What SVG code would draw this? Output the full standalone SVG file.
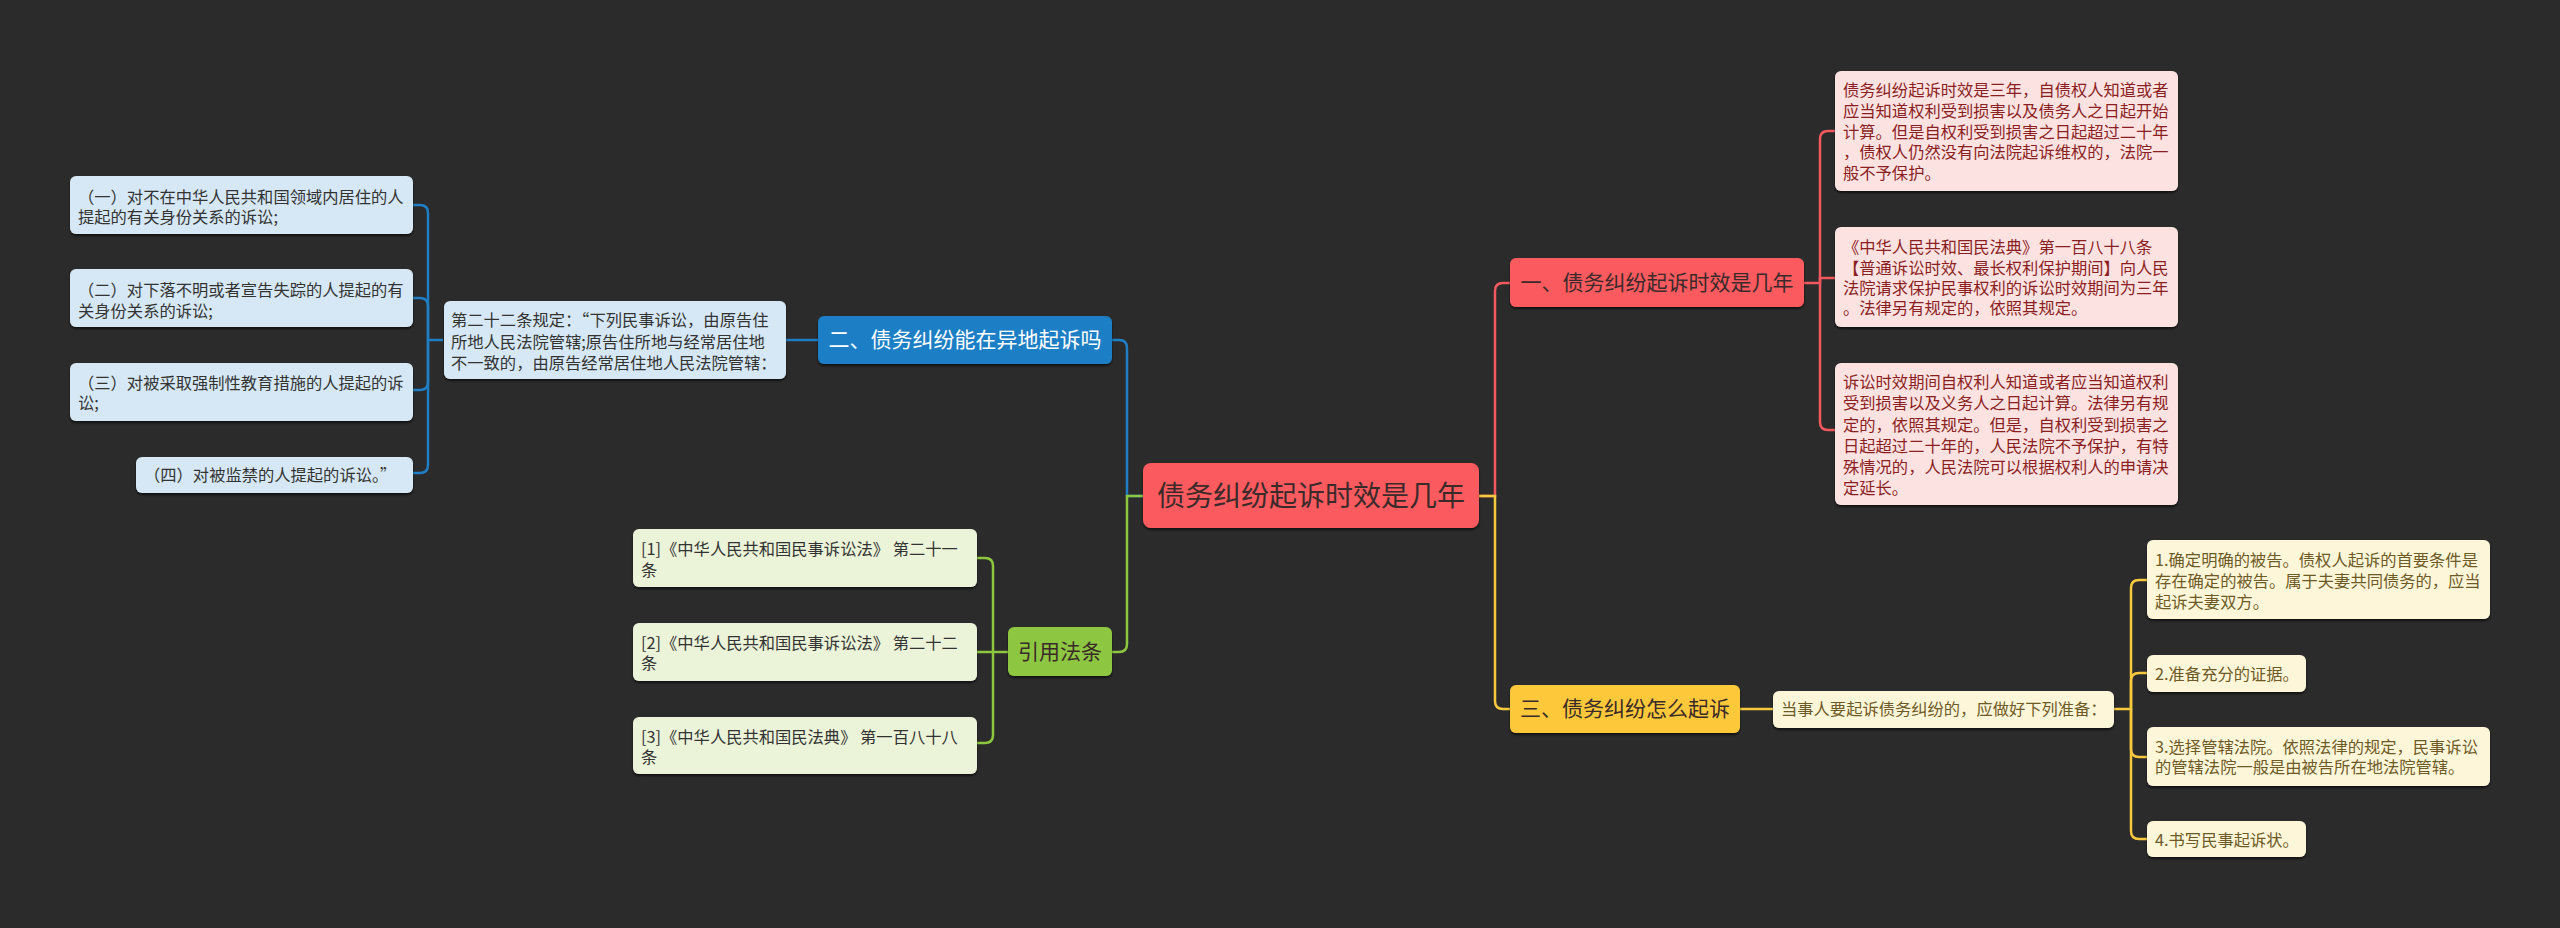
<svg xmlns="http://www.w3.org/2000/svg" width="2560" height="928" viewBox="0 0 2560 928">
<defs>
<filter id="sh" x="-5%" y="-10%" width="110%" height="130%">
<feDropShadow dx="0" dy="2" stdDeviation="1" flood-color="#000" flood-opacity="0.6"/>
</filter>
</defs>
<style>
text{font-family:"Noto Sans CJK SC","Microsoft YaHei",sans-serif;}
.root{fill:#fb5a5e;}
.red{fill:#fb5a5e;}
.blue{fill:#1f7ec4;}
.green{fill:#8dc63f;}
.yellow{fill:#fdc93a;}
.redc{fill:#fde2e2;}
.bluec{fill:#d6e8f5;}
.greenc{fill:#ebf3d8;}
.yellowc{fill:#fdf6d8;}
.t1{font-size:28px;fill:#3a2a2a;text-anchor:middle;}
.t2{font-size:21px;fill:#3a2a2a;text-anchor:middle;}
.t2w{font-size:21px;fill:#ffffff;text-anchor:middle;}
.t3{font-size:16.3px;}
.tr{fill:#8a1f22;}
.tb{fill:#333333;}
.tg{fill:#333333;}
.ty{fill:#6e5a26;}
.cn path{fill:none;stroke-width:2.5;}
.cb{stroke:#1f7ec4;}
.cg{stroke:#8dc63f;}
.cr{stroke:#f0595e;}
.cy{stroke:#f7c93e;}
</style>
<rect x="0" y="0" width="2560" height="928" fill="#2b2b2b"/>

<g id="connectors" class="cn">
<path class="cb" d="M1143 496 H1127 V348 Q1127 340 1119 340 H1112"/>
<path class="cb" d="M818 340 H786"/>
<path class="cb" d="M443 340 H428 V213 Q428 205 420 205 H413"/>
<path class="cb" d="M428 340 V306 Q428 298 420 298 H413"/>
<path class="cb" d="M428 340 V382 Q428 390 420 390 H413"/>
<path class="cb" d="M428 340 V465 Q428 473 420 473 H413"/>
<path class="cg" d="M1143 496 H1127 V644 Q1127 652 1119 652 H1112"/>
<path class="cg" d="M1008 652 H977"/>
<path class="cg" d="M993 652 V566 Q993 558 985 558 H977"/>
<path class="cg" d="M993 652 V735 Q993 743 985 743 H977"/>
<path class="cr" d="M1479 496 H1495 V291 Q1495 283 1503 283 H1510"/>
<path class="cr" d="M1804 283 H1820 V139 Q1820 131 1828 131 H1835"/>
<path class="cr" d="M1820 283 V278 H1835"/>
<path class="cr" d="M1820 283 V422 Q1820 430 1828 430 H1835"/>
<path class="cy" d="M1479 496 H1495 V701 Q1495 709 1503 709 H1510"/>
<path class="cy" d="M1740 709 H1773"/>
<path class="cy" d="M2114 709 H2131 V588 Q2131 580 2139 580 H2147"/>
<path class="cy" d="M2131 709 V681 Q2131 673 2139 673 H2147"/>
<path class="cy" d="M2131 709 V749 Q2131 757 2139 757 H2147"/>
<path class="cy" d="M2131 709 V831 Q2131 839 2139 839 H2147"/>
</g>

<g id="root">
<rect class="root" x="1143" y="463" width="336" height="65" rx="8" filter="url(#sh)"/>
<text class="t1" x="1311" y="506">债务纠纷起诉时效是几年</text>
</g>

<g id="n1">
<rect class="red" x="1510" y="258" width="294" height="49" rx="6" filter="url(#sh)"/>
<text class="t2" x="1657" y="290">一、债务纠纷起诉时效是几年</text>
</g>
<g id="n1a">
<rect class="redc" x="1835" y="71" width="343" height="120" rx="6" filter="url(#sh)"/>
<text class="t3 tr" x="1843"><tspan x="1843" y="96">债务纠纷起诉时效是三年，自债权人知道或者</tspan><tspan x="1843" y="117">应当知道权利受到损害以及债务人之日起开始</tspan><tspan x="1843" y="138">计算。但是自权利受到损害之日起超过二十年</tspan><tspan x="1843" y="158">，债权人仍然没有向法院起诉维权的，法院一</tspan><tspan x="1843" y="179">般不予保护。</tspan></text>
</g>
<g id="n1b">
<rect class="redc" x="1835" y="227" width="343" height="100" rx="6" filter="url(#sh)"/>
<text class="t3 tr" x="1843"><tspan x="1843" y="253">《中华人民共和国民法典》第一百八十八条</tspan><tspan x="1843" y="274">【普通诉讼时效、最长权利保护期间】向人民</tspan><tspan x="1843" y="294">法院请求保护民事权利的诉讼时效期间为三年</tspan><tspan x="1843" y="314">。法律另有规定的，依照其规定。</tspan></text>
</g>
<g id="n1c">
<rect class="redc" x="1835" y="363" width="343" height="142" rx="6" filter="url(#sh)"/>
<text class="t3 tr" x="1843"><tspan x="1843" y="388">诉讼时效期间自权利人知道或者应当知道权利</tspan><tspan x="1843" y="409">受到损害以及义务人之日起计算。法律另有规</tspan><tspan x="1843" y="431">定的，依照其规定。但是，自权利受到损害之</tspan><tspan x="1843" y="452">日起超过二十年的，人民法院不予保护，有特</tspan><tspan x="1843" y="473">殊情况的，人民法院可以根据权利人的申请决</tspan><tspan x="1843" y="494">定延长。</tspan></text>
</g>

<g id="n2">
<rect class="blue" x="818" y="316" width="294" height="48" rx="6" filter="url(#sh)"/>
<text class="t2w" x="965" y="347">二、债务纠纷能在异地起诉吗</text>
</g>
<g id="n2a">
<rect class="bluec" x="444" y="301" width="342" height="78" rx="6" filter="url(#sh)"/>
<text class="t3 tb"><tspan x="451" y="326">第二十二条规定：“下列民事诉讼，由原告住</tspan><tspan x="451" y="348">所地人民法院管辖;原告住所地与经常居住地</tspan><tspan x="451" y="369">不一致的，由原告经常居住地人民法院管辖：</tspan></text>
</g>
<g id="n2b">
<rect class="bluec" x="70" y="176" width="343" height="58" rx="6" filter="url(#sh)"/>
<text class="t3 tb"><tspan x="78" y="203">（一）对不在中华人民共和国领域内居住的人</tspan><tspan x="78" y="223">提起的有关身份关系的诉讼;</tspan></text>
</g>
<g id="n2c">
<rect class="bluec" x="70" y="269" width="343" height="58" rx="6" filter="url(#sh)"/>
<text class="t3 tb"><tspan x="78" y="296">（二）对下落不明或者宣告失踪的人提起的有</tspan><tspan x="78" y="317">关身份关系的诉讼;</tspan></text>
</g>
<g id="n2d">
<rect class="bluec" x="70" y="363" width="343" height="58" rx="6" filter="url(#sh)"/>
<text class="t3 tb"><tspan x="78" y="389">（三）对被采取强制性教育措施的人提起的诉</tspan><tspan x="78" y="409">讼;</tspan></text>
</g>
<g id="n2e">
<rect class="bluec" x="136" y="457" width="277" height="36" rx="6" filter="url(#sh)"/>
<text class="t3 tb" x="144" y="481">（四）对被监禁的人提起的诉讼。”</text>
</g>

<g id="n3">
<rect class="green" x="1008" y="627" width="104" height="49" rx="6" filter="url(#sh)"/>
<text class="t2" x="1060" y="659">引用法条</text>
</g>
<g id="n3a">
<rect class="greenc" x="633" y="529" width="344" height="58" rx="6" filter="url(#sh)"/>
<text class="t3 tg"><tspan x="641" y="555">[1]《中华人民共和国民事诉讼法》 第二十一</tspan><tspan x="641" y="576">条</tspan></text>
</g>
<g id="n3b">
<rect class="greenc" x="633" y="623" width="344" height="58" rx="6" filter="url(#sh)"/>
<text class="t3 tg"><tspan x="641" y="649">[2]《中华人民共和国民事诉讼法》 第二十二</tspan><tspan x="641" y="669">条</tspan></text>
</g>
<g id="n3c">
<rect class="greenc" x="633" y="717" width="344" height="57" rx="6" filter="url(#sh)"/>
<text class="t3 tg"><tspan x="641" y="743">[3]《中华人民共和国民法典》 第一百八十八</tspan><tspan x="641" y="763">条</tspan></text>
</g>

<g id="n4">
<rect class="yellow" x="1510" y="685" width="230" height="48" rx="6" filter="url(#sh)"/>
<text class="t2" x="1625" y="716">三、债务纠纷怎么起诉</text>
</g>
<g id="n4a">
<rect class="yellowc" x="1773" y="691" width="341" height="37" rx="6" filter="url(#sh)"/>
<text class="t3 ty" x="1781" y="715">当事人要起诉债务纠纷的，应做好下列准备：</text>
</g>
<g id="n4b">
<rect class="yellowc" x="2147" y="540" width="343" height="79" rx="6" filter="url(#sh)"/>
<text class="t3 ty"><tspan x="2155" y="566">1.确定明确的被告。债权人起诉的首要条件是</tspan><tspan x="2155" y="587">存在确定的被告。属于夫妻共同债务的，应当</tspan><tspan x="2155" y="608">起诉夫妻双方。</tspan></text>
</g>
<g id="n4c">
<rect class="yellowc" x="2147" y="655" width="159" height="37" rx="6" filter="url(#sh)"/>
<text class="t3 ty" x="2155" y="680">2.准备充分的证据。</text>
</g>
<g id="n4d">
<rect class="yellowc" x="2147" y="727" width="343" height="59" rx="6" filter="url(#sh)"/>
<text class="t3 ty"><tspan x="2155" y="753">3.选择管辖法院。依照法律的规定，民事诉讼</tspan><tspan x="2155" y="773">的管辖法院一般是由被告所在地法院管辖。</tspan></text>
</g>
<g id="n4e">
<rect class="yellowc" x="2147" y="821" width="159" height="36" rx="6" filter="url(#sh)"/>
<text class="t3 ty" x="2155" y="846">4.书写民事起诉状。</text>
</g>
</svg>
